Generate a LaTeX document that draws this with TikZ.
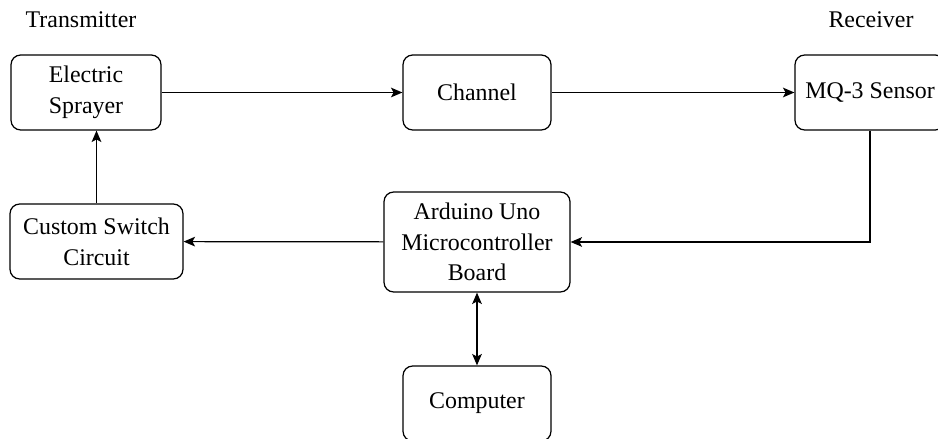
\documentclass[tikz,border=0pt]{standalone}
\usepackage{fontspec}
\setmainfont{Liberation Serif}
\usetikzlibrary{arrows.meta}
\tikzset{
  block/.style={draw,line width=0.7pt,rounded corners=5.5pt,align=center,
    minimum height=1.5cm,inner sep=2pt},
  link/.style={line width=0.7pt,-{Stealth[length=6.5pt,width=5.5pt,inset=1.5pt]}},
  duplex/.style={line width=0.7pt,{Stealth[length=6.5pt,width=5.5pt,inset=1.5pt]}-{Stealth[length=6.5pt,width=5.5pt,inset=1.5pt]}}
}
\begin{document}
\begin{tikzpicture}[font=\fontsize{13.6}{17.5}\selectfont]
    \useasboundingbox (0,0) rectangle (18.76,8.78);
    \path (1.62,8.38) node(tx){Transmitter} (17.42,8.38) node(rx){Receiver};
    \path (1.72,6.93) node [block,minimum width=3cm](sprayer){Electric\\Sprayer};
    \path (9.54,6.93) node [block,minimum width=2.96cm](channel){Channel};
    \path (17.4,6.93) node [block,minimum width=3cm](sensor){MQ-3 Sensor};
    \path (1.93,3.95) node [block,minimum width=3.46cm](switch){Custom Switch\\Circuit};
    \path (9.54,3.94) node [block,minimum width=3.72cm,minimum height=2cm](arduino){Arduino Uno\\Microcontroller\\Board};
    \path (9.54,0.71) node [block,minimum width=2.96cm](computer){Computer};
    \draw[link] (sprayer) -- (channel);
    \draw[link] (channel) -- (sensor);
    \draw[link] (sensor.south) |- (arduino.east);
    \draw[link] (arduino) -- (switch);
    \draw[link] (switch.north) -- (switch.north |- sprayer.south);
    \draw[duplex] (arduino) -- (computer);

  \end{tikzpicture}
\end{document}
